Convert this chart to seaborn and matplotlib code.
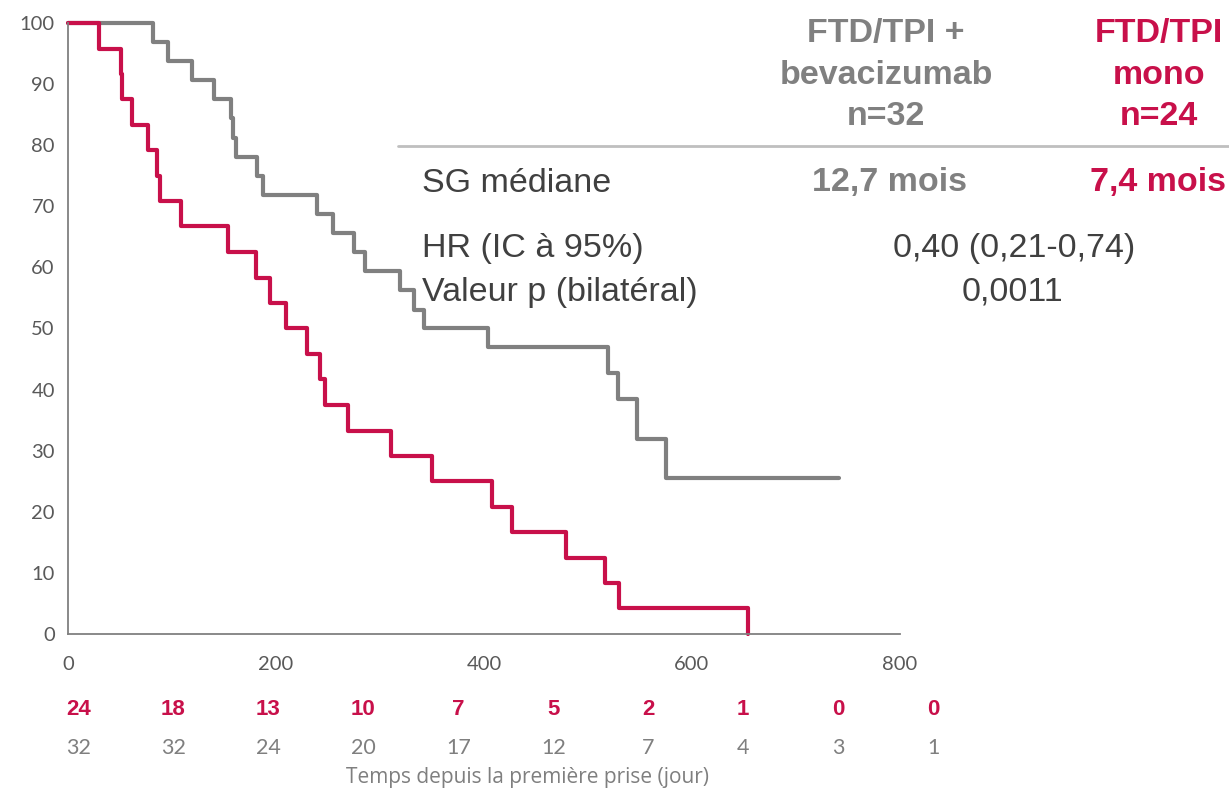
import numpy as np
import pandas as pd
import matplotlib
matplotlib.use("Agg")
import matplotlib.pyplot as plt
import seaborn as sns

# Kaplan-Meier steps (time in days, survival in %)
mono_time = [0, 29.5, 51, 52, 62, 77, 86, 88.5, 109, 154, 181, 194, 210,
             229.5, 242, 247, 269.5, 311, 350, 408, 427, 479, 516, 530, 654]
mono_surv = [100, 95.8, 91.7, 87.5, 83.3, 79.2, 75, 70.8, 66.7, 62.5, 58.3,
             54.2, 50, 45.8, 41.7, 37.5, 33.3, 29.2, 25, 20.8, 16.7, 12.5,
             8.3, 4.2, 0]

beva_time = [0, 81.4, 96.5, 119, 140.7, 157, 159, 162, 182, 188, 239, 255,
             275.3, 285.6, 319, 333, 342, 404, 519.5, 529, 547, 575, 741.6]
beva_surv = [100, 96.9, 93.75, 90.6, 87.5, 84.4, 81.25, 78.1, 75, 71.9,
             68.75, 65.6, 62.5, 59.4, 56.25, 53.1, 50, 46.9, 42.7, 38.4,
             31.9, 25.5, 25.5]

# numbers at risk
risk_mono = [24, 18, 13, 10, 7, 5, 2, 1, 0, 0]
risk_beva = [32, 32, 24, 20, 17, 12, 7, 4, 3, 1]

RED = "#C8104A"
GREY = "#808080"
DARK = "#404040"

sns.set_style("white")
plt.rcParams["font.family"] = ["Liberation Sans", "DejaVu Sans"]

fig = plt.figure(figsize=(12.29, 7.9), dpi=100)
ax = fig.add_axes([0.0553, 0.1975, 0.677, 0.7734])

df_m = pd.DataFrame({"t": mono_time, "s": mono_surv})
df_b = pd.DataFrame({"t": beva_time, "s": beva_surv})
sns.lineplot(data=df_b, x="t", y="s", ax=ax, color=GREY, lw=3,
             drawstyle="steps-post", estimator=None, sort=False)
sns.lineplot(data=df_m, x="t", y="s", ax=ax, color=RED, lw=3,
             drawstyle="steps-post", estimator=None, sort=False)

ax.set_xlim(0, 800)
ax.set_ylim(0, 100)
ax.set_xticks(range(0, 801, 200))
ax.set_yticks(range(0, 101, 10))
ax.set_xlabel("")
ax.set_ylabel("")
for s in ["top", "right"]:
    ax.spines[s].set_visible(False)
for s in ["left", "bottom"]:
    ax.spines[s].set_color(GREY)
    ax.spines[s].set_linewidth(1.3)
ax.tick_params(axis="both", direction="inout", length=11, width=1.3,
               color=GREY, labelcolor="#595959", labelsize=14.5)
ax.tick_params(axis="x", pad=10)
ax.tick_params(axis="y", pad=4)
for lab in ax.get_xticklabels() + ax.get_yticklabels():
    lab.set_family(["Lato", "DejaVu Sans"])
for ln in ax.lines:
    ln.set_clip_on(False)

# numbers at risk rows
xs = np.linspace(10, 832, len(risk_mono))
for x, m, b in zip(xs, risk_mono, risk_beva):
    ax.text(x, -12.3, str(m), color=RED, fontsize=16, fontweight="bold",
            ha="center", va="center")
    ax.text(x, -18.7, str(b), color="#7f7f7f", fontsize=15.5,
            family=["Lato", "DejaVu Sans"], ha="center", va="center")
fig.text(527 / 1229, 1 - 778 / 790, "Temps depuis la première prise (jour)",
         color="#7f7f7f", fontsize=15, family=["Open Sans", "DejaVu Sans"],
         ha="center", va="center")

# summary table on the right
fig.text(886 / 1229, 1 - 75 / 790, "FTD/TPI +\nbevacizumab\nn=32", color=GREY,
         fontsize=24.5, fontweight="bold", ha="center", va="center",
         linespacing=1.42)
fig.text(1159 / 1229, 1 - 75 / 790, "FTD/TPI\nmono\nn=24", color=RED,
         fontsize=24.5, fontweight="bold", ha="center", va="center",
         linespacing=1.42)
fig.add_artist(plt.Line2D([398 / 1229, 1.0], [1 - 146 / 790] * 2,
                          color="#bfbfbf", lw=2, transform=fig.transFigure))
fig.text(422 / 1229, 1 - 183 / 790, "SG médiane", color=DARK, fontsize=24.5,
         ha="left", va="center")
fig.text(890 / 1229, 1 - 183 / 790, "12,7 mois", color=GREY, fontsize=24.5,
         fontweight="bold", ha="center", va="center")
fig.text(1158 / 1229, 1 - 183 / 790, "7,4 mois", color=RED, fontsize=24.5,
         fontweight="bold", ha="center", va="center")
fig.text(422 / 1229, 1 - 249 / 790, "HR (IC à 95%)", color=DARK,
         fontsize=24.5, ha="left", va="center")
fig.text(422 / 1229, 1 - 292 / 790, "Valeur p (bilatéral)", color=DARK,
         fontsize=24.5, ha="left", va="center")
fig.text(1014 / 1229, 1 - 249 / 790, "0,40 (0,21-0,74)", color=DARK,
         fontsize=24.5, ha="center", va="center")
fig.text(1012 / 1229, 1 - 292 / 790, "0,0011", color=DARK, fontsize=24.5,
         ha="center", va="center")

fig.savefig("out.png", dpi=100)
